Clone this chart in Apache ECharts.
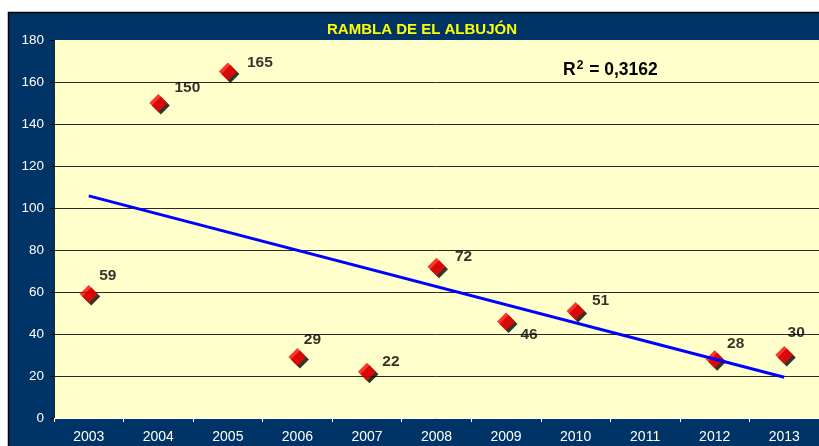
<!DOCTYPE html>
<html>
<head>
<meta charset="utf-8">
<script src="https://cdn.jsdelivr.net/npm/echarts@6/dist/echarts.min.js"></script>
<style>
  html, body { margin: 0; padding: 0; background: #ffffff; }
  #chart { width: 819px; height: 446px; }
</style>
</head>
<body>
<div id="chart"></div>
<script>
// Annual values for the Rambla de El Albujón (2011 has no measurement)
const years = ['2003', '2004', '2005', '2006', '2007', '2008', '2009', '2010', '2011', '2012', '2013'];
const values = [59, 150, 165, 29, 22, 72, 46, 51, null, 28, 30];
const yTicks = { min: 0, max: 180, interval: 20 };
const title = 'RAMBLA DE EL ALBUJÓN';

// Where each value label sits relative to its marker centre
const labelOffsets = [[19, -18], [29, -15], [32, -9], [15, -17], [24, -10], [27, -10], [23, 13], [25, -10], [0, 0], [21, -15], [12, -22]];

// Least-squares linear trend over the category index (missing years skipped)
function linearFit(ys) {
  const pts = [];
  ys.forEach((y, i) => { if (y != null) pts.push([i, y]); });
  const n = pts.length;
  const mx = pts.reduce((s, p) => s + p[0], 0) / n;
  const my = pts.reduce((s, p) => s + p[1], 0) / n;
  let sxy = 0, sxx = 0, syy = 0;
  pts.forEach(([x, y]) => { sxy += (x - mx) * (y - my); sxx += (x - mx) ** 2; syy += (y - my) ** 2; });
  const slope = sxy / sxx;
  return { slope, intercept: my - slope * mx, r2: (sxy * sxy) / (sxx * syy) };
}
const fit = linearFit(values);
const last = years.length - 1;
const trend = years.map((_, i) => (i === 0 || i === last) ? fit.intercept + fit.slope * i : null);
const r2Text = fit.r2.toFixed(4).replace('.', ',');

const chart = echarts.init(document.getElementById('chart'), null, { renderer: 'canvas' });

const font = '"Liberation Sans", Arial, sans-serif';

chart.setOption({
  backgroundColor: '#ffffff',
  animation: false,
  textStyle: { fontFamily: font },
  graphic: [
    {
      type: 'rect', z: -10, silent: true,
      shape: { x: 8.5, y: 12.5, width: 815, height: 440 },
      style: { fill: '#003366', stroke: '#000000', lineWidth: 1.5 }
    },
    {
      type: 'rect', z: -9, silent: true,
      shape: { x: 54, y: 40, width: 765, height: 378 },
      style: { fill: '#FFFFCC' }
    },
    {
      type: 'text', z: 10, left: 563, top: 60,
      style: {
        text: '{a|R}{s|2}{a| = ' + r2Text + '}',
        rich: {
          a: { fontFamily: font, fontSize: 17.5, fontWeight: 'bold', fill: '#000000' },
          s: { fontFamily: font, fontSize: 12, fontWeight: 'bold', fill: '#000000', verticalAlign: 'top', padding: [0, 1, 9, 1] }
        }
      }
    }
  ],
  title: {
    text: title,
    left: 417, top: 17, textAlign: 'center',
    textStyle: { color: '#FFFF00', fontSize: 15, fontWeight: 'bold', fontFamily: font }
  },
  grid: { left: 54, top: 40, right: 0, bottom: 28, containLabel: false },
  xAxis: {
    type: 'category',
    data: years,
    boundaryGap: true,
    axisLine: { show: true, lineStyle: { color: '#ffffff', width: 1 } },
    axisTick: { show: true, inside: false, length: 4, lineStyle: { color: '#ffffff' } },
    axisLabel: { color: '#ffffff', fontSize: 14, margin: 12, fontFamily: font },
    splitLine: { show: false }
  },
  yAxis: {
    type: 'value',
    min: yTicks.min, max: yTicks.max, interval: yTicks.interval,
    axisLine: { show: true, lineStyle: { color: '#222222', width: 1 } },
    axisTick: { show: true, inside: false, length: 4, lineStyle: { color: '#000000' } },
    axisLabel: { color: '#ffffff', fontSize: 13.5, margin: 10, fontFamily: font },
    splitLine: { show: true, showMinLine: false, showMaxLine: false, lineStyle: { color: '#2a2a20', width: 1 } }
  },
  series: [
    {
      type: 'scatter',
      data: values.map((v, i) => ({
        value: v,
        label: { offset: labelOffsets[i] }
      })),
      symbol: 'diamond',
      symbolSize: 18,
      itemStyle: {
        color: '#FF0000',
        shadowColor: '#000000', shadowBlur: 0, shadowOffsetX: 2.5, shadowOffsetY: 2.5
      },
      label: {
        show: true,
        position: 'inside',
        align: 'center', verticalAlign: 'middle',
        color: '#000000', textBorderWidth: 0, textShadowBlur: 0,
        fontSize: 15.5, fontWeight: 'bold', fontFamily: font,
        formatter: p => p.value
      },
      z: 2
    },
    {
      type: 'line',
      data: trend,
      connectNulls: true,
      showSymbol: false,
      symbol: 'none',
      lineStyle: { color: '#0000FF', width: 3 },
      z: 3,
      silent: true
    }
  ]
});
</script>
</body>
</html>
